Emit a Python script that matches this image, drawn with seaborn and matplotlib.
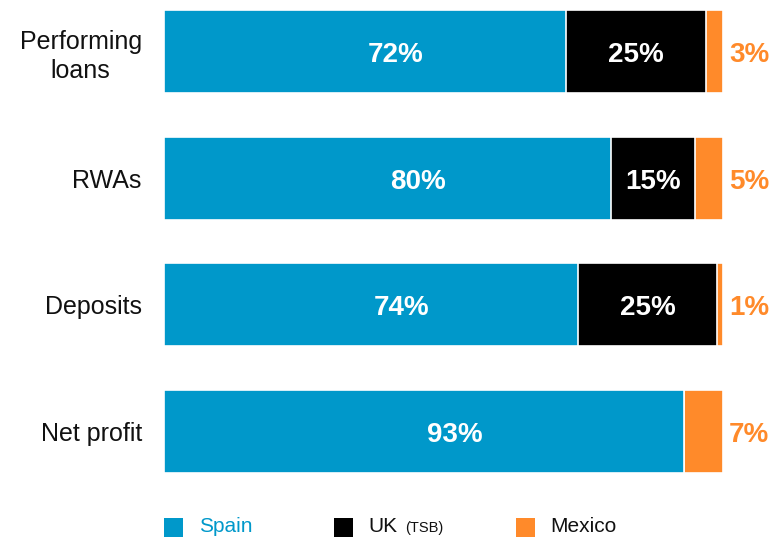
import matplotlib
matplotlib.use("Agg")
import matplotlib.pyplot as plt
import seaborn as sns
import pandas as pd
from matplotlib.patches import Rectangle

sns.set_theme(style="white")
plt.rcParams["font.family"] = ["Liberation Sans", "DejaVu Sans"]

categories = ["Performing\nloans", "RWAs", "Deposits", "Net profit"]
spain = [72, 80, 74, 93]
uk = [25, 15, 25, 0]
mexico = [3, 5, 1, 7]

BLUE = "#0098CA"
BLACK = "#000000"
ORANGE = "#FF8A2A"

df = pd.DataFrame({"category": categories, "Spain": spain, "UK": uk, "Mexico": mexico})
df["spain_uk"] = df["Spain"] + df["UK"]
df["total"] = df["spain_uk"] + df["Mexico"]

W, H = 771, 537
fig = plt.figure(figsize=(W / 100, H / 100), dpi=100)
ax = fig.add_axes([164 / W, 0.0667, (723 - 164) / W, 0.932])

# stacked bars: draw cumulative layers from the outermost inwards
bw = 0.655
for col, colr in [("total", ORANGE), ("spain_uk", BLACK), ("Spain", BLUE)]:
    sns.barplot(data=df, x=col, y="category", orient="h", color=colr,
                width=bw, edgecolor="white", linewidth=1.2, saturation=1, ax=ax)

ax.set_xlim(0, 100)
ax.set_ylim(3.55, -0.4)
ax.set_xlabel("")
ax.set_ylabel("")
ax.set_xticks([])
for s in ax.spines.values():
    s.set_visible(False)
ax.tick_params(axis="y", length=0, pad=16)
for lbl in ax.get_yticklabels():
    lbl.set_fontsize(18)
    lbl.set_color("#111111")
    lbl.set_multialignment("center")
    lbl.set_linespacing(1.25)

lab_kw = dict(fontsize=20, fontweight="bold", va="center", textcoords="offset points")
dy = -2.5
for i, row in df.iterrows():
    ax.annotate(f"{row['Spain']}%", xy=(row["Spain"] / 2, i), xytext=(22, dy),
                color="white", ha="center", **lab_kw)
    if row["UK"] > 0:
        ax.annotate(f"{row['UK']}%", xy=(row["Spain"] + row["UK"] / 2, i), xytext=(0, dy),
                    color="white", ha="center", **lab_kw)
    ax.annotate(f"{row['Mexico']}%", xy=(row["total"], i), xytext=(4.5, dy),
                color=ORANGE, ha="left", **lab_kw)

# legend row along the bottom edge
sq = 19
for x0, colr in [(164, BLUE), (334, BLACK), (516, ORANGE)]:
    fig.patches.append(Rectangle((x0 / W, 1 - (518 + sq) / H), sq / W, sq / H,
                                 transform=fig.transFigure, facecolor=colr, edgecolor="none"))
base = 1 - 532 / H
fig.text(199 / W, base, "Spain", color=BLUE, fontsize=15, va="baseline")
fig.text(368 / W, base, "UK", color="#111111", fontsize=15, va="baseline")
fig.text(405 / W, base, "(TSB)", color="#111111", fontsize=10.5, va="baseline")
fig.text(550 / W, base, "Mexico", color="#111111", fontsize=15, va="baseline")

fig.savefig("out.png", dpi=100)
